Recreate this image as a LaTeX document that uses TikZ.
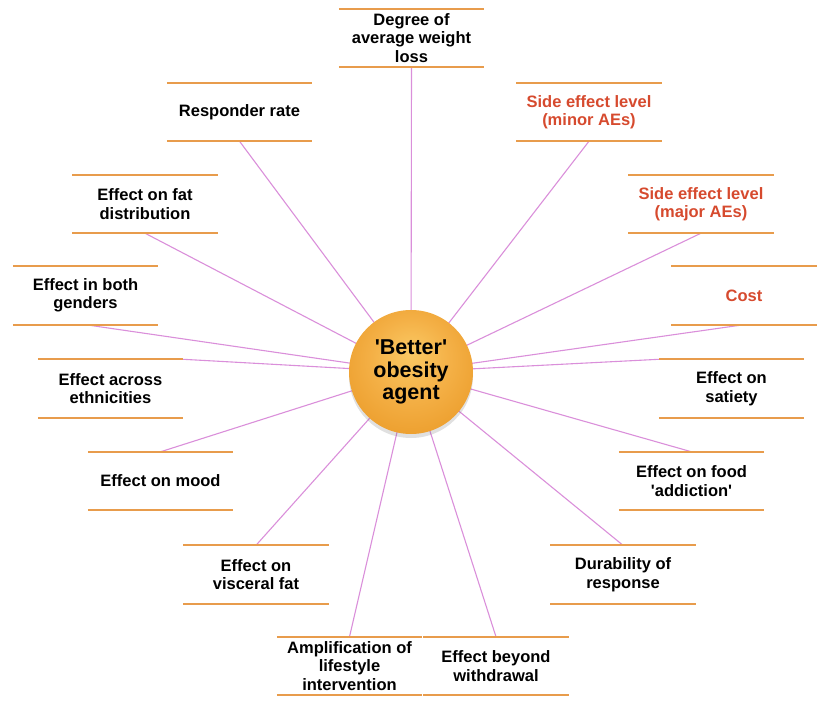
\documentclass[tikz,border=0pt]{standalone}
\usepackage{fontspec}
\setmainfont{Liberation Sans}
\usetikzlibrary{backgrounds,shadows}
\definecolor{lineor}{HTML}{E89C4C}
\definecolor{conn}{HTML}{DA8FDA}
\definecolor{redtxt}{HTML}{D64A2E}
\definecolor{orbA}{HTML}{FAC964}
\definecolor{orbB}{HTML}{F4B046}
\definecolor{orbC}{HTML}{E89520}
\definecolor{orbD}{HTML}{DF8B1C}
\pgfdeclareradialshading{orb}{\pgfpoint{0bp}{8bp}}{color(0bp)=(orbA);color(16bp)=(orbB);color(38bp)=(orbC);color(50bp)=(orbD)}
\newcommand{\sq}{\textquotesingle}
\begin{document}
\begin{tikzpicture}[x=1pt,y=-1pt,
  lbl/.style={minimum width=145pt, minimum height=58pt, inner sep=0pt, align=center,
    font=\fontsize{16.5}{18.5}\selectfont\bfseries},
  redl/.style={lbl, text=redtxt},
  rule/.style={draw=lineor, line width=1.7pt},
  link/.style={draw=conn, line width=1.1pt}]
\useasboundingbox (0,0) rectangle (828,714);

\node[lbl]  (deg)    at (411.5,38)   {Degree of\\average weight\\loss};
\node[lbl]  (resp)   at (239.5,112)  {Responder rate};
\node[redl] (minor)  at (589,112)    {Side effect level\\(minor AEs)};
\node[lbl]  (fat)    at (145,204)    {Effect on fat\\distribution};
\node[redl] (major)  at (701,204)    {Side effect level\\(major AEs)};
\node[lbl]  (gend)   at (85.5,295.5) {Effect in both\\genders};
\node[redl] (cost)   at (744,295.5)  {Cost};
\node[lbl]  (eth)    at (110.5,388.5){Effect across\\ethnicities};
\node[lbl]  (sat)    at (731.5,388.5){Effect on\\satiety};
\node[lbl]  (mood)   at (160.5,481)  {Effect on mood};
\node[lbl]  (food)   at (691.5,481)  {Effect on food\\\sq addiction\sq};
\node[lbl]  (visc)   at (256,574.5)  {Effect on\\visceral fat};
\node[lbl]  (dur)    at (623,574.5)  {Durability of\\response};
\node[lbl]  (amp)    at (349.5,666)  {Amplification of\\lifestyle\\intervention};
\node[lbl]  (beyond) at (496,666)    {Effect beyond\\withdrawal};

\foreach \n in {deg,resp,minor,fat,major,gend,cost,eth,sat,mood,food,visc,dur,amp,beyond}{
  \draw[rule] (\n.north west) -- (\n.north east);
  \draw[rule] (\n.south west) -- (\n.south east);
}

\node[circle, minimum size=124pt, inner sep=0pt, shade, shading=orb,
  drop shadow={shadow xshift=0pt, shadow yshift=-4pt, opacity=.2, fill=black!60},
  align=center, font=\fontsize{21.5}{22.5}\selectfont\bfseries] (ctr) at (411,372)
  {\sq Better\sq\\obesity\\agent};

\begin{scope}[on background layer]
  \draw[link] (deg.south) -- (ctr.center);
  \draw[link] (resp.south) -- (ctr.center);
  \draw[link] (minor.south) -- (ctr.center);
  \draw[link] (fat.south) -- (ctr.center);
  \draw[link] (major.south) -- (ctr.center);
  \draw[link] (gend.south) -- (ctr.center);
  \draw[link] (cost.south) -- (ctr.center);
  \draw[link] (eth.north east) -- (ctr.center);
  \draw[link] (sat.north west) -- (ctr.center);
  \draw[link] (mood.north) -- (ctr.center);
  \draw[link] (food.north) -- (ctr.center);
  \draw[link] (visc.north) -- (ctr.center);
  \draw[link] (dur.north) -- (ctr.center);
  \draw[link] (amp.north) -- (ctr.center);
  \draw[link] (beyond.north) -- (ctr.center);
\end{scope}
\end{tikzpicture}
\end{document}
